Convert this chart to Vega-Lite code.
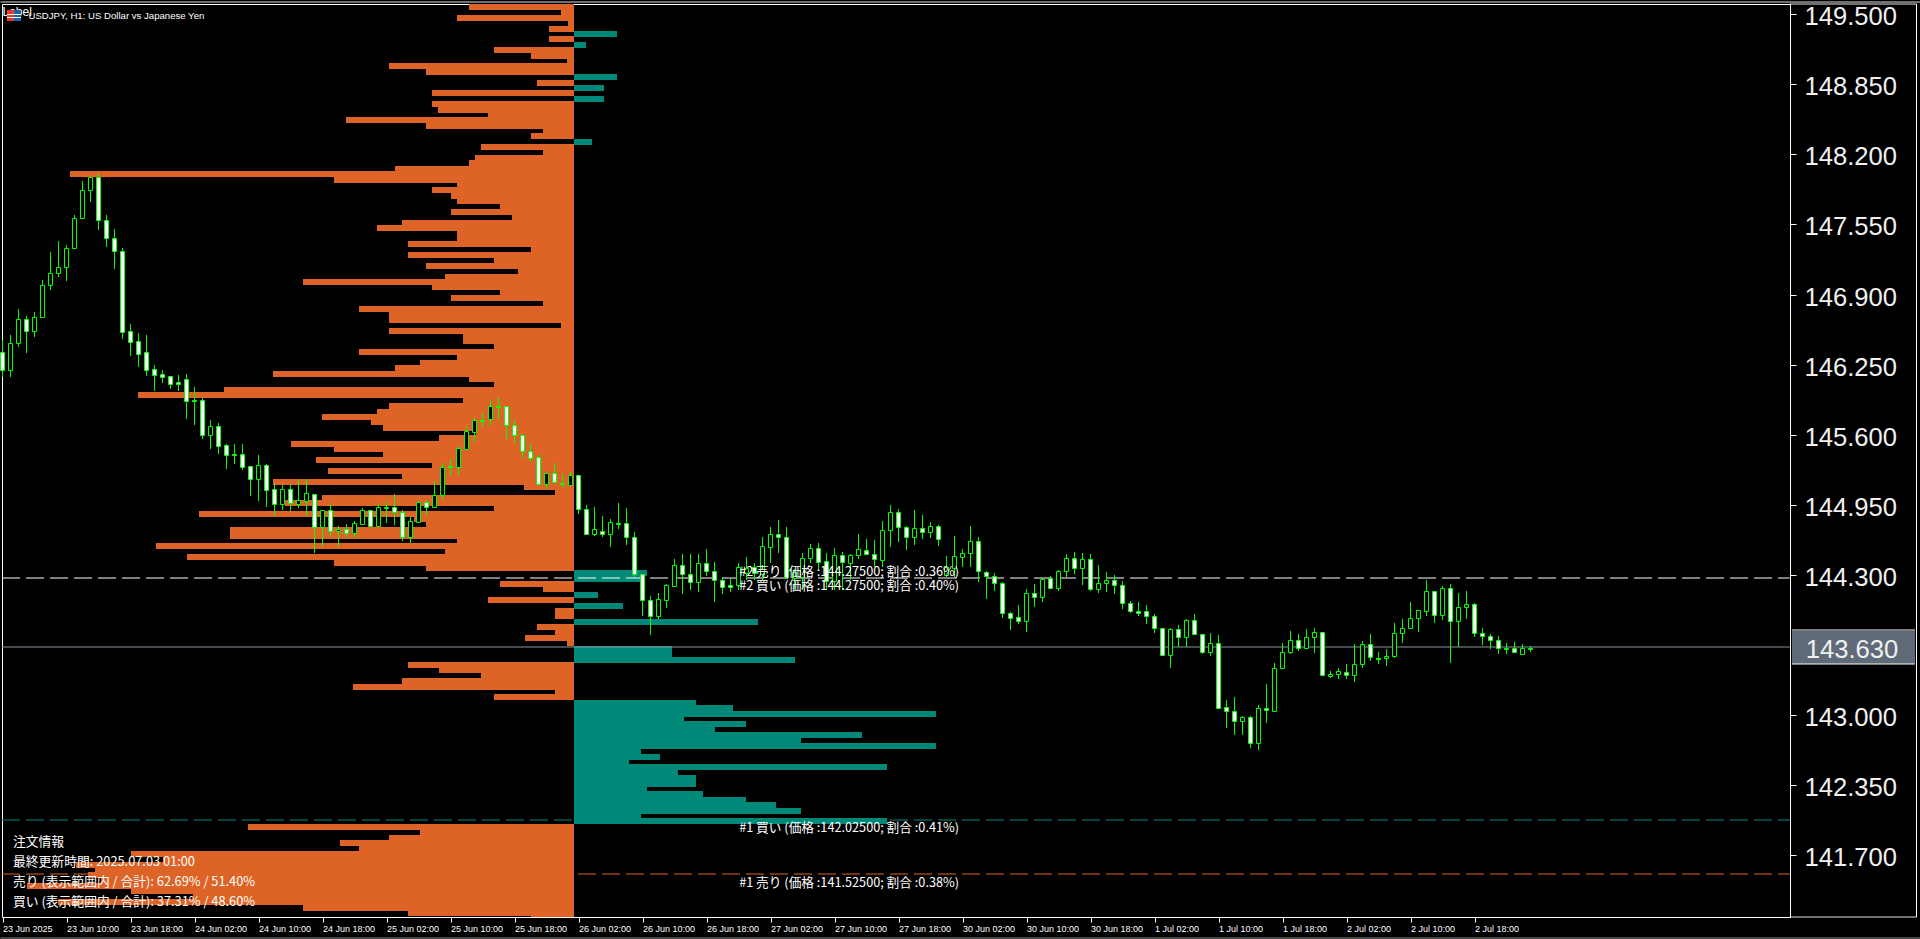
{"$schema":"https://vega.github.io/schema/vega-lite/v6.json","autosize":{"type":"none"},"width":1788,"height":913,"padding":{"left":2,"top":4,"right":130,"bottom":22},"background":"#000000","view":{"stroke":"#ffffff","strokeWidth":1,"fill":null},
"datasets":{
"book":[
{"price":149.575,"side":"sell","volume":-105},{"price":149.525,"side":"sell","volume":-13},{"price":149.475,"side":"sell","volume":-117},{"price":149.425,"side":"sell","volume":-6},{"price":149.375,"side":"sell","volume":-25},{"price":149.325,"side":"buy","volume":43},{"price":149.275,"side":"sell","volume":-25},{"price":149.225,"side":"buy","volume":12},{"price":149.175,"side":"sell","volume":-80},{"price":149.125,"side":"sell","volume":-43},{"price":149.075,"side":"sell","volume":-7},{"price":149.025,"side":"sell","volume":-185},{"price":148.975,"side":"sell","volume":-148},{"price":148.925,"side":"buy","volume":43},{"price":148.875,"side":"sell","volume":-37},{"price":148.825,"side":"buy","volume":30},{"price":148.775,"side":"sell","volume":-142},{"price":148.725,"side":"buy","volume":30},{"price":148.675,"side":"sell","volume":-142},{"price":148.625,"side":"sell","volume":-136},{"price":148.575,"side":"sell","volume":-86},{"price":148.525,"side":"sell","volume":-228},{"price":148.475,"side":"sell","volume":-148},{"price":148.425,"side":"sell","volume":-31},{"price":148.375,"side":"sell","volume":-43},{"price":148.325,"side":"buy","volume":18},{"price":148.275,"side":"sell","volume":-93},{"price":148.225,"side":"sell","volume":-31},{"price":148.175,"side":"sell","volume":-99},{"price":148.125,"side":"sell","volume":-105},{"price":148.075,"side":"sell","volume":-179},{"price":148.025,"side":"sell","volume":-504},{"price":147.975,"side":"sell","volume":-240},{"price":147.925,"side":"sell","volume":-117},{"price":147.875,"side":"sell","volume":-142},{"price":147.825,"side":"sell","volume":-123},{"price":147.775,"side":"sell","volume":-117},{"price":147.725,"side":"sell","volume":-74},{"price":147.675,"side":"sell","volume":-123},{"price":147.625,"side":"sell","volume":-62},{"price":147.575,"side":"sell","volume":-172},{"price":147.525,"side":"sell","volume":-197},{"price":147.475,"side":"sell","volume":-117},{"price":147.425,"side":"sell","volume":-117},{"price":147.375,"side":"sell","volume":-166},{"price":147.325,"side":"sell","volume":-43},{"price":147.275,"side":"sell","volume":-166},{"price":147.225,"side":"sell","volume":-80},{"price":147.175,"side":"sell","volume":-148},{"price":147.125,"side":"sell","volume":-56},{"price":147.075,"side":"sell","volume":-129},{"price":147.025,"side":"sell","volume":-271},{"price":146.975,"side":"sell","volume":-142},{"price":146.925,"side":"sell","volume":-74},{"price":146.875,"side":"sell","volume":-123},{"price":146.825,"side":"sell","volume":-31},{"price":146.775,"side":"sell","volume":-215},{"price":146.725,"side":"sell","volume":-185},{"price":146.675,"side":"sell","volume":-185},{"price":146.625,"side":"sell","volume":-13},{"price":146.575,"side":"sell","volume":-185},{"price":146.525,"side":"sell","volume":-111},{"price":146.475,"side":"sell","volume":-111},{"price":146.425,"side":"sell","volume":-80},{"price":146.375,"side":"sell","volume":-215},{"price":146.325,"side":"sell","volume":-117},{"price":146.275,"side":"sell","volume":-154},{"price":146.225,"side":"sell","volume":-179},{"price":146.175,"side":"sell","volume":-301},{"price":146.125,"side":"sell","volume":-105},{"price":146.075,"side":"sell","volume":-80},{"price":146.025,"side":"sell","volume":-350},{"price":145.975,"side":"sell","volume":-436},{"price":145.925,"side":"sell","volume":-111},{"price":145.875,"side":"sell","volume":-185},{"price":145.825,"side":"sell","volume":-197},{"price":145.775,"side":"sell","volume":-252},{"price":145.725,"side":"sell","volume":-203},{"price":145.675,"side":"sell","volume":-191},{"price":145.625,"side":"sell","volume":-98},{"price":145.575,"side":"sell","volume":-135},{"price":145.525,"side":"sell","volume":-283},{"price":145.475,"side":"sell","volume":-240},{"price":145.425,"side":"sell","volume":-191},{"price":145.375,"side":"sell","volume":-258},{"price":145.325,"side":"sell","volume":-142},{"price":145.275,"side":"sell","volume":-246},{"price":145.225,"side":"sell","volume":-172},{"price":145.175,"side":"sell","volume":-301},{"price":145.125,"side":"sell","volume":-50},{"price":145.075,"side":"sell","volume":-19},{"price":145.025,"side":"sell","volume":-252},{"price":144.975,"side":"sell","volume":-289},{"price":144.925,"side":"sell","volume":-80},{"price":144.875,"side":"sell","volume":-375},{"price":144.825,"side":"sell","volume":-160},{"price":144.775,"side":"sell","volume":-148},{"price":144.725,"side":"sell","volume":-344},{"price":144.675,"side":"sell","volume":-344},{"price":144.625,"side":"sell","volume":-117},{"price":144.575,"side":"sell","volume":-418},{"price":144.525,"side":"sell","volume":-129},{"price":144.475,"side":"sell","volume":-387},{"price":144.425,"side":"sell","volume":-240},{"price":144.375,"side":"sell","volume":-148},{"price":144.325,"side":"buy","volume":73},{"price":144.275,"side":"buy","volume":66},{"price":144.225,"side":"sell","volume":-74},{"price":144.175,"side":"sell","volume":-31},{"price":144.125,"side":"buy","volume":24},{"price":144.075,"side":"sell","volume":-86},{"price":144.025,"side":"buy","volume":49},{"price":143.975,"side":"sell","volume":-19},{"price":143.925,"side":"sell","volume":-19},{"price":143.875,"side":"buy","volume":184},{"price":143.825,"side":"sell","volume":-37},{"price":143.775,"side":"sell","volume":-19},{"price":143.725,"side":"sell","volume":-49},{"price":143.675,"side":"sell","volume":-7},{"price":143.625,"side":"buy","volume":98},{"price":143.575,"side":"buy","volume":98},{"price":143.525,"side":"buy","volume":221},{"price":143.475,"side":"sell","volume":-166},{"price":143.425,"side":"sell","volume":-135},{"price":143.375,"side":"sell","volume":-93},{"price":143.325,"side":"sell","volume":-172},{"price":143.275,"side":"sell","volume":-221},{"price":143.225,"side":"sell","volume":-19},{"price":143.175,"side":"sell","volume":-80},{"price":143.125,"side":"buy","volume":122},{"price":143.075,"side":"buy","volume":159},{"price":143.025,"side":"buy","volume":362},{"price":142.975,"side":"buy","volume":110},{"price":142.925,"side":"buy","volume":172},{"price":142.875,"side":"buy","volume":141},{"price":142.825,"side":"buy","volume":288},{"price":142.775,"side":"buy","volume":227},{"price":142.725,"side":"buy","volume":362},{"price":142.675,"side":"buy","volume":67},{"price":142.625,"side":"buy","volume":86},{"price":142.575,"side":"buy","volume":55},{"price":142.525,"side":"buy","volume":313},{"price":142.475,"side":"buy","volume":104},{"price":142.425,"side":"buy","volume":122},{"price":142.375,"side":"buy","volume":122},{"price":142.325,"side":"buy","volume":73},{"price":142.275,"side":"buy","volume":129},{"price":142.225,"side":"buy","volume":172},{"price":142.175,"side":"buy","volume":202},{"price":142.125,"side":"buy","volume":227},{"price":142.075,"side":"buy","volume":67},{"price":142.025,"side":"buy","volume":313},{"price":141.975,"side":"sell","volume":-326},{"price":141.925,"side":"sell","volume":-154},{"price":141.875,"side":"sell","volume":-185},{"price":141.825,"side":"sell","volume":-234},{"price":141.775,"side":"sell","volume":-215},{"price":141.725,"side":"sell","volume":-443},{"price":141.675,"side":"sell","volume":-411},{"price":141.625,"side":"sell","volume":-498},{"price":141.575,"side":"sell","volume":-479},{"price":141.525,"side":"sell","volume":-486},{"price":141.475,"side":"sell","volume":-473},{"price":141.425,"side":"sell","volume":-547},{"price":141.375,"side":"sell","volume":-443},{"price":141.325,"side":"sell","volume":-381},{"price":141.275,"side":"sell","volume":-516},{"price":141.225,"side":"sell","volume":-271},{"price":141.175,"side":"sell","volume":-166},{"price":141.125,"side":"sell","volume":-43}
],
"bars":[
{"i":0,"o":146.367,"h":146.479,"l":146.136,"c":146.201},{"i":1,"o":146.201,"h":146.525,"l":146.136,"c":146.451},{"i":2,"o":146.451,"h":146.766,"l":146.414,"c":146.673},{"i":3,"o":146.673,"h":146.701,"l":146.358,"c":146.563},{"i":4,"o":146.563,"h":146.738,"l":146.507,"c":146.692},{"i":5,"o":146.692,"h":147.035,"l":146.692,"c":146.989},{"i":6,"o":146.989,"h":147.295,"l":146.943,"c":147.1},{"i":7,"o":147.1,"h":147.397,"l":147.063,"c":147.156},{"i":8,"o":147.156,"h":147.36,"l":147.026,"c":147.332},{"i":9,"o":147.332,"h":147.638,"l":147.332,"c":147.61},
{"i":10,"o":147.61,"h":147.953,"l":147.61,"c":147.87},{"i":11,"o":147.87,"h":147.99,"l":147.758,"c":147.99},{"i":12,"o":147.99,"h":148.027,"l":147.499,"c":147.592},{"i":13,"o":147.592,"h":147.638,"l":147.341,"c":147.425},{"i":14,"o":147.425,"h":147.508,"l":147.137,"c":147.304},{"i":15,"o":147.304,"h":147.332,"l":146.488,"c":146.553},{"i":16,"o":146.563,"h":146.627,"l":146.33,"c":146.46},{"i":17,"o":146.47,"h":146.544,"l":146.229,"c":146.349},{"i":18,"o":146.367,"h":146.525,"l":146.145,"c":146.201},{"i":19,"o":146.21,"h":146.247,"l":146.006,"c":146.154},
{"i":20,"o":146.163,"h":146.201,"l":146.08,"c":146.136},{"i":21,"o":146.145,"h":146.145,"l":146.025,"c":146.071},{"i":22,"o":146.089,"h":146.154,"l":146.006,"c":146.071},{"i":23,"o":146.117,"h":146.163,"l":145.746,"c":145.914},{"i":24,"o":145.923,"h":146.043,"l":145.691,"c":145.914},{"i":25,"o":145.923,"h":145.941,"l":145.561,"c":145.598},{"i":26,"o":145.598,"h":145.737,"l":145.468,"c":145.681},{"i":27,"o":145.681,"h":145.709,"l":145.422,"c":145.496},{"i":28,"o":145.505,"h":145.515,"l":145.283,"c":145.413},{"i":29,"o":145.422,"h":145.515,"l":145.329,"c":145.413},
{"i":30,"o":145.422,"h":145.515,"l":145.274,"c":145.301},{"i":31,"o":145.31,"h":145.31,"l":145.032,"c":145.19},{"i":32,"o":145.19,"h":145.413,"l":144.986,"c":145.32},{"i":33,"o":145.32,"h":145.329,"l":144.93,"c":145.088},{"i":34,"o":145.097,"h":145.153,"l":144.847,"c":144.958},{"i":35,"o":144.958,"h":145.134,"l":144.903,"c":145.097},{"i":36,"o":145.097,"h":145.144,"l":144.893,"c":144.967},{"i":37,"o":144.958,"h":145.19,"l":144.921,"c":144.995},{"i":38,"o":144.986,"h":145.19,"l":144.847,"c":145.06},{"i":39,"o":145.051,"h":145.051,"l":144.504,"c":144.745},
{"i":40,"o":144.745,"h":144.903,"l":144.56,"c":144.903},{"i":41,"o":144.903,"h":144.967,"l":144.652,"c":144.708},{"i":42,"o":144.708,"h":144.754,"l":144.56,"c":144.727},{"i":43,"o":144.727,"h":144.773,"l":144.643,"c":144.689},{"i":44,"o":144.689,"h":144.801,"l":144.643,"c":144.782},{"i":45,"o":144.773,"h":144.921,"l":144.773,"c":144.903},{"i":46,"o":144.903,"h":144.903,"l":144.745,"c":144.754},{"i":47,"o":144.754,"h":144.967,"l":144.754,"c":144.93},{"i":48,"o":144.93,"h":144.977,"l":144.782,"c":144.921},{"i":49,"o":144.93,"h":145.051,"l":144.763,"c":144.884},
{"i":50,"o":144.884,"h":144.903,"l":144.615,"c":144.652},{"i":51,"o":144.652,"h":144.838,"l":144.597,"c":144.801},{"i":52,"o":144.792,"h":144.986,"l":144.782,"c":144.977},{"i":53,"o":144.977,"h":144.995,"l":144.856,"c":144.93},{"i":54,"o":144.93,"h":145.172,"l":144.93,"c":145.042},{"i":55,"o":145.042,"h":145.338,"l":144.995,"c":145.301},{"i":56,"o":145.31,"h":145.375,"l":145.227,"c":145.301},{"i":57,"o":145.301,"h":145.496,"l":145.227,"c":145.478},{"i":58,"o":145.468,"h":145.681,"l":145.459,"c":145.635},{"i":59,"o":145.626,"h":145.756,"l":145.533,"c":145.737},
{"i":60,"o":145.737,"h":145.802,"l":145.672,"c":145.728},{"i":61,"o":145.746,"h":145.923,"l":145.691,"c":145.867},{"i":62,"o":145.867,"h":145.951,"l":145.746,"c":145.858},{"i":63,"o":145.867,"h":145.867,"l":145.561,"c":145.691},{"i":64,"o":145.691,"h":145.737,"l":145.524,"c":145.598},{"i":65,"o":145.598,"h":145.607,"l":145.385,"c":145.45},{"i":66,"o":145.45,"h":145.515,"l":145.357,"c":145.385},{"i":67,"o":145.394,"h":145.413,"l":145.144,"c":145.144},{"i":68,"o":145.144,"h":145.246,"l":145.097,"c":145.246},{"i":69,"o":145.246,"h":145.338,"l":145.162,"c":145.162},
{"i":70,"o":145.153,"h":145.236,"l":145.116,"c":145.144},{"i":71,"o":145.134,"h":145.255,"l":145.134,"c":145.227},{"i":72,"o":145.227,"h":145.227,"l":144.865,"c":144.912},{"i":73,"o":144.912,"h":144.949,"l":144.671,"c":144.68},{"i":74,"o":144.68,"h":144.93,"l":144.661,"c":144.727},{"i":75,"o":144.708,"h":144.847,"l":144.652,"c":144.68},{"i":76,"o":144.68,"h":144.819,"l":144.56,"c":144.792},{"i":77,"o":144.782,"h":144.967,"l":144.727,"c":144.773},{"i":78,"o":144.782,"h":144.921,"l":144.578,"c":144.652},{"i":79,"o":144.652,"h":144.699,"l":144.282,"c":144.309},
{"i":80,"o":144.309,"h":144.309,"l":143.92,"c":144.068},{"i":81,"o":144.068,"h":144.105,"l":143.744,"c":143.92},{"i":82,"o":143.92,"h":144.133,"l":143.892,"c":144.077},{"i":83,"o":144.068,"h":144.217,"l":143.994,"c":144.207},{"i":84,"o":144.198,"h":144.448,"l":144.189,"c":144.393},{"i":85,"o":144.393,"h":144.495,"l":144.124,"c":144.309},{"i":86,"o":144.309,"h":144.495,"l":144.161,"c":144.235},{"i":87,"o":144.235,"h":144.495,"l":144.142,"c":144.411},{"i":88,"o":144.411,"h":144.541,"l":144.291,"c":144.337},{"i":89,"o":144.337,"h":144.421,"l":144.05,"c":144.254},
{"i":90,"o":144.254,"h":144.282,"l":144.124,"c":144.189},{"i":91,"o":144.207,"h":144.263,"l":144.142,"c":144.189},{"i":92,"o":144.207,"h":144.411,"l":144.161,"c":144.374},{"i":93,"o":144.318,"h":144.467,"l":144.254,"c":144.365},{"i":94,"o":144.374,"h":144.411,"l":144.254,"c":144.318},{"i":95,"o":144.309,"h":144.652,"l":144.254,"c":144.569},{"i":96,"o":144.56,"h":144.745,"l":144.411,"c":144.68},{"i":97,"o":144.68,"h":144.81,"l":144.504,"c":144.652},{"i":98,"o":144.652,"h":144.745,"l":144.263,"c":144.282},{"i":99,"o":144.272,"h":144.356,"l":144.17,"c":144.328},
{"i":100,"o":144.282,"h":144.504,"l":144.161,"c":144.458},{"i":101,"o":144.458,"h":144.587,"l":144.411,"c":144.55},{"i":102,"o":144.55,"h":144.597,"l":144.356,"c":144.421},{"i":103,"o":144.43,"h":144.504,"l":144.161,"c":144.245},{"i":104,"o":144.245,"h":144.55,"l":144.161,"c":144.485},{"i":105,"o":144.485,"h":144.513,"l":144.161,"c":144.421},{"i":106,"o":144.411,"h":144.495,"l":144.254,"c":144.485},{"i":107,"o":144.485,"h":144.68,"l":144.448,"c":144.541},{"i":108,"o":144.532,"h":144.634,"l":144.485,"c":144.495},{"i":109,"o":144.495,"h":144.625,"l":144.374,"c":144.448},
{"i":110,"o":144.439,"h":144.801,"l":144.374,"c":144.717},{"i":111,"o":144.717,"h":144.949,"l":144.56,"c":144.884},{"i":112,"o":144.884,"h":144.912,"l":144.606,"c":144.745},{"i":113,"o":144.745,"h":144.754,"l":144.532,"c":144.652},{"i":114,"o":144.652,"h":144.903,"l":144.578,"c":144.736},{"i":115,"o":144.736,"h":144.856,"l":144.634,"c":144.699},{"i":116,"o":144.699,"h":144.792,"l":144.643,"c":144.754},{"i":117,"o":144.754,"h":144.763,"l":144.569,"c":144.634},{"i":118,"o":144.3,"h":144.476,"l":144.282,"c":144.374},{"i":119,"o":144.365,"h":144.661,"l":144.282,"c":144.476},
{"i":120,"o":144.467,"h":144.541,"l":144.374,"c":144.504},{"i":121,"o":144.504,"h":144.754,"l":144.374,"c":144.615},{"i":122,"o":144.615,"h":144.652,"l":144.235,"c":144.337},{"i":123,"o":144.328,"h":144.337,"l":144.077,"c":144.291},{"i":124,"o":144.291,"h":144.318,"l":144.152,"c":144.226},{"i":125,"o":144.226,"h":144.235,"l":143.901,"c":143.948},{"i":126,"o":143.948,"h":143.957,"l":143.79,"c":143.901},{"i":127,"o":143.911,"h":144.022,"l":143.846,"c":143.873},{"i":128,"o":143.873,"h":144.17,"l":143.771,"c":144.133},{"i":129,"o":144.133,"h":144.217,"l":144.003,"c":144.096},
{"i":130,"o":144.096,"h":144.272,"l":144.05,"c":144.263},{"i":131,"o":144.272,"h":144.291,"l":144.17,"c":144.18},{"i":132,"o":144.18,"h":144.346,"l":144.152,"c":144.337},{"i":133,"o":144.337,"h":144.495,"l":144.282,"c":144.458},{"i":134,"o":144.458,"h":144.513,"l":144.309,"c":144.365},{"i":135,"o":144.365,"h":144.504,"l":144.207,"c":144.448},{"i":136,"o":144.448,"h":144.495,"l":144.152,"c":144.17},{"i":137,"o":144.17,"h":144.393,"l":144.133,"c":144.226},{"i":138,"o":144.226,"h":144.328,"l":144.142,"c":144.254},{"i":139,"o":144.254,"h":144.3,"l":144.124,"c":144.207},
{"i":140,"o":144.207,"h":144.245,"l":143.985,"c":144.04},{"i":141,"o":144.04,"h":144.059,"l":143.948,"c":143.966},{"i":142,"o":143.966,"h":144.05,"l":143.92,"c":143.948},{"i":143,"o":143.966,"h":144.022,"l":143.846,"c":143.92},{"i":144,"o":143.92,"h":143.939,"l":143.762,"c":143.809},{"i":145,"o":143.809,"h":143.809,"l":143.549,"c":143.558},{"i":146,"o":143.558,"h":143.809,"l":143.438,"c":143.799},{"i":147,"o":143.799,"h":143.836,"l":143.632,"c":143.725},{"i":148,"o":143.725,"h":143.892,"l":143.632,"c":143.883},{"i":149,"o":143.883,"h":143.939,"l":143.753,"c":143.753},
{"i":150,"o":143.753,"h":143.753,"l":143.568,"c":143.586},{"i":151,"o":143.586,"h":143.762,"l":143.549,"c":143.669},{"i":152,"o":143.669,"h":143.744,"l":143.067,"c":143.067},{"i":153,"o":143.076,"h":143.141,"l":142.881,"c":143.039},{"i":154,"o":143.039,"h":143.169,"l":142.817,"c":142.946},{"i":155,"o":142.946,"h":142.993,"l":142.817,"c":142.984},{"i":156,"o":142.984,"h":142.993,"l":142.696,"c":142.742},{"i":157,"o":142.742,"h":143.095,"l":142.677,"c":143.067},{"i":158,"o":143.067,"h":143.289,"l":142.928,"c":143.048},{"i":159,"o":143.039,"h":143.484,"l":143.039,"c":143.438},
{"i":160,"o":143.438,"h":143.669,"l":143.438,"c":143.586},{"i":161,"o":143.586,"h":143.781,"l":143.568,"c":143.697},{"i":162,"o":143.697,"h":143.753,"l":143.595,"c":143.623},{"i":163,"o":143.623,"h":143.799,"l":143.614,"c":143.725},{"i":164,"o":143.725,"h":143.809,"l":143.577,"c":143.771},{"i":165,"o":143.771,"h":143.771,"l":143.373,"c":143.373},{"i":166,"o":143.364,"h":143.41,"l":143.345,"c":143.382},{"i":167,"o":143.382,"h":143.438,"l":143.336,"c":143.41},{"i":168,"o":143.401,"h":143.475,"l":143.336,"c":143.373},{"i":169,"o":143.373,"h":143.66,"l":143.308,"c":143.475},
{"i":170,"o":143.475,"h":143.688,"l":143.438,"c":143.66},{"i":171,"o":143.66,"h":143.753,"l":143.503,"c":143.54},{"i":172,"o":143.53,"h":143.586,"l":143.475,"c":143.521},{"i":173,"o":143.53,"h":143.614,"l":143.456,"c":143.549},{"i":174,"o":143.549,"h":143.855,"l":143.53,"c":143.762},{"i":175,"o":143.762,"h":143.892,"l":143.669,"c":143.809},{"i":176,"o":143.809,"h":144.05,"l":143.809,"c":143.901},{"i":177,"o":143.901,"h":143.976,"l":143.771,"c":143.976},{"i":178,"o":143.966,"h":144.254,"l":143.92,"c":144.152},{"i":179,"o":144.152,"h":144.152,"l":143.855,"c":143.929},
{"i":180,"o":143.929,"h":144.198,"l":143.883,"c":144.18},{"i":181,"o":144.18,"h":144.217,"l":143.484,"c":143.873},{"i":182,"o":143.873,"h":144.133,"l":143.632,"c":144.003},{"i":183,"o":144.003,"h":144.152,"l":143.892,"c":144.031},{"i":184,"o":144.031,"h":144.04,"l":143.725,"c":143.762},{"i":185,"o":143.762,"h":143.809,"l":143.651,"c":143.734},{"i":186,"o":143.734,"h":143.753,"l":143.614,"c":143.697},{"i":187,"o":143.697,"h":143.734,"l":143.568,"c":143.623},{"i":188,"o":143.623,"h":143.669,"l":143.568,"c":143.614},{"i":189,"o":143.623,"h":143.679,"l":143.586,"c":143.586},{"i":190,"o":143.568,"h":143.66,"l":143.568,"c":143.623},{"i":191,"o":143.623,"h":143.642,"l":143.586,"c":143.614}
],
"levels":[
{"price":144.275,"from":-0.0625,"to":223.4,"kind":"order"},
{"price":142.025,"from":-0.0625,"to":223.4,"kind":"buy"},
{"price":141.525,"from":-0.0625,"to":223.4,"kind":"sell"},
{"price":143.63,"from":-0.0625,"to":223.4,"kind":"last"},
{"price":143.79,"from":223.69,"to":239.06,"kind":"box"},
{"price":143.475,"from":223.69,"to":239.06,"kind":"box"},
{"price":149.608,"from":-0.25,"to":239.7,"kind":"box"},
{"price":149.594,"from":223.4,"to":239.25,"kind":"box"},
{"price":141.129,"from":223.4,"to":239.25,"kind":"box"},
{"price":140.934,"from":-0.25,"to":239.7,"kind":"edge"}
],
"edges":[{"i":239.25,"top":149.594,"bottom":141.129}],
"boxes":[
{"from":223.69,"to":239.06,"hi":143.781,"lo":143.475,"part":"price"},
{"from":0.56,"to":1.44,"hi":149.539,"lo":149.437,"part":"red"},
{"from":1.44,"to":2.31,"hi":149.539,"lo":149.437,"part":"blue"},
{"from":0.56,"to":2.31,"hi":149.502,"lo":149.492,"part":"white"},
{"from":0.56,"to":2.31,"hi":149.474,"lo":149.464,"part":"white"}
],
"orders":[
{"i":119.56,"price":144.327,"text":"#2 売り (価格 :144.27500; 割合 :0.36%)"},
{"i":119.56,"price":144.197,"text":"#2 買い (価格 :144.27500; 割合 :0.40%)"},
{"i":119.56,"price":141.953,"text":"#1 買い (価格 :142.02500; 割合 :0.41%)"},
{"i":119.56,"price":141.443,"text":"#1 売り (価格 :141.52500; 割合 :0.38%)"}
],
"info":[
{"i":1.31,"price":141.828,"text":"注文情報"},
{"i":1.31,"price":141.642,"text":"最終更新時間: 2025.07.03 01:00"},
{"i":1.31,"price":141.457,"text":"売り (表示範囲内 / 合計): 62.69% / 51.40%"},
{"i":1.31,"price":141.271,"text":"買い (表示範囲内 / 合計): 37.31% / 48.60%"}
],
"tag":[{"i":0,"price":149.52,"text":"Label"}],
"head":[{"i":3.25,"price":149.483,"text":"USDJPY, H1: US Dollar vs Japanese Yen"}],
"last":[{"i":225.4,"price":143.6,"text":"143.630"}]
},
"resolve":{"scale":{"x":"independent","color":"independent"}},
"layer":[
{"data":{"name":"book"},
 "mark":{"type":"bar","orient":"horizontal","height":6,"yOffset":1,"clip":true},
 "encoding":{
  "x":{"field":"volume","type":"quantitative","axis":null,"scale":{"domain":[-572,1216],"nice":false,"zero":false,"padding":0}},
  "x2":{"datum":0},
  "y":{"field":"price","type":"quantitative","scale":{"domain":[141.129,149.594],"nice":false,"zero":false,"round":true,"padding":0},
     "axis":{"orient":"right","zindex":1,"title":null,"values":[149.5,148.85,148.2,147.55,146.9,146.25,145.6,144.95,144.3,143,142.35,141.7],"format":".3f","labelColor":"#f0f0f0","labelFont":"Liberation Sans","labelFontSize":25.6,"labelPadding":8,"labelOffset":2,"labelOverlap":false,"labelFlush":false,"tickColor":"#ffffff","tickSize":6,"tickRound":true,"domain":true,"domainColor":"#ffffff","ticks":true,"labels":true,"grid":false}},
  "color":{"field":"side","type":"nominal","legend":null,"scale":{"domain":["sell","buy"],"range":["#DD6426","#008878"]}}
 }},
{"resolve":{"scale":{"color":"independent"}},"layer":[
 {"data":{"name":"tag"},
  "mark":{"type":"text","align":"left","baseline":"middle","font":"Liberation Sans","fontSize":12,"color":"#FFFFFF"},
  "encoding":{
   "x":{"field":"i","type":"quantitative","scale":{"domain":[-0.0625,223.4375],"nice":false,"zero":false,"padding":0},
     "axis":{"orient":"bottom","title":null,"values":[0,8,16,24,32,40,48,56,64,72,80,88,96,104,112,120,128,136,144,152,160,168,176,184],"labelExpr":"['23 Jun 2025','23 Jun 10:00','23 Jun 18:00','24 Jun 02:00','24 Jun 10:00','24 Jun 18:00','25 Jun 02:00','25 Jun 10:00','25 Jun 18:00','26 Jun 02:00','26 Jun 10:00','26 Jun 18:00','27 Jun 02:00','27 Jun 10:00','27 Jun 18:00','30 Jun 02:00','30 Jun 10:00','30 Jun 18:00','1 Jul 02:00','1 Jul 10:00','1 Jul 18:00','2 Jul 02:00','2 Jul 10:00','2 Jul 18:00'][datum.value/8]","labelAlign":"left","labelColor":"#ffffff","labelFont":"Liberation Sans","labelFontSize":9,"labelPadding":2,"labelOverlap":false,"labelFlush":false,"tickColor":"#ffffff","tickSize":5,"tickRound":true,"domain":false,"grid":false}},
   "y":{"field":"price","type":"quantitative"},
   "text":{"field":"text"}
  }},
 {"data":{"name":"boxes"},
  "mark":{"type":"rect"},
  "encoding":{
   "x":{"field":"from","type":"quantitative"},
   "x2":{"field":"to"},
   "y":{"field":"hi","type":"quantitative"},
   "y2":{"field":"lo"},
   "color":{"field":"part","type":"nominal","legend":null,"scale":{"domain":["price","red","blue","white"],"range":["#5F6B78","#E8392B","#1565B0","#FFFFFF"]}}
  }},
 {"data":{"name":"levels"},
  "mark":{"type":"rule","strokeWidth":1},
  "encoding":{
   "x":{"field":"from","type":"quantitative"},
   "x2":{"field":"to"},
   "y":{"field":"price","type":"quantitative"},
   "color":{"field":"kind","type":"nominal","legend":null,"scale":{"domain":["order","buy","sell","last","box","edge"],"range":["#FFFFFF","#008878","#DD6426","#8C96A3","#FFFFFF","#A0A0A0"]}},
   "strokeDash":{"field":"kind","type":"nominal","legend":null,"scale":{"domain":["order","buy","sell","last","box","edge"],"range":[[18,6],[18,6],[18,6],[1,0],[1,0],[1,0]]}}
  }},
 {"data":{"name":"edges"},
  "mark":{"type":"rule","color":"#FFFFFF","strokeWidth":1},
  "encoding":{
   "x":{"field":"i","type":"quantitative"},
   "y":{"field":"top","type":"quantitative"},
   "y2":{"field":"bottom"}
  }},
 {"data":{"name":"bars"},
  "mark":{"type":"rule","color":"#00FF00","strokeWidth":1},
  "encoding":{
   "x":{"field":"i","type":"quantitative"},
   "y":{"field":"h","type":"quantitative"},
   "y2":{"field":"l"}
  }},
 {"data":{"name":"bars"},
  "mark":{"type":"bar","orient":"vertical","width":4,"stroke":"#00FF00","strokeWidth":1,"yOffset":0.5,"y2Offset":0.5},
  "encoding":{
   "x":{"field":"i","type":"quantitative"},
   "y":{"field":"o","type":"quantitative"},
   "y2":{"field":"c"},
   "fill":{"condition":{"test":"datum.c>datum.o","value":"#000000"},"value":"#FFFFFF"}
  }},
 {"data":{"name":"orders"},
  "mark":{"type":"text","align":"right","baseline":"middle","font":"Noto Sans CJK JP","fontSize":12.7,"color":"#FFFFFF"},
  "encoding":{"x":{"field":"i","type":"quantitative"},"y":{"field":"price","type":"quantitative"},"text":{"field":"text"}}},
 {"data":{"name":"info"},
  "mark":{"type":"text","align":"left","baseline":"middle","font":"Noto Sans CJK JP","fontSize":12.8,"color":"#FFFFFF"},
  "encoding":{"x":{"field":"i","type":"quantitative"},"y":{"field":"price","type":"quantitative"},"text":{"field":"text"}}},
 {"data":{"name":"head"},
  "mark":{"type":"text","align":"left","baseline":"middle","font":"Liberation Sans","fontSize":9.6,"color":"#FFFFFF"},
  "encoding":{"x":{"field":"i","type":"quantitative"},"y":{"field":"price","type":"quantitative"},"text":{"field":"text"}}},
 {"data":{"name":"last"},
  "mark":{"type":"text","align":"left","baseline":"middle","font":"Liberation Sans","fontSize":25.6,"color":"#F0F0F0"},
  "encoding":{"x":{"field":"i","type":"quantitative"},"y":{"field":"price","type":"quantitative"},"text":{"field":"text"}}}
]}
]}
